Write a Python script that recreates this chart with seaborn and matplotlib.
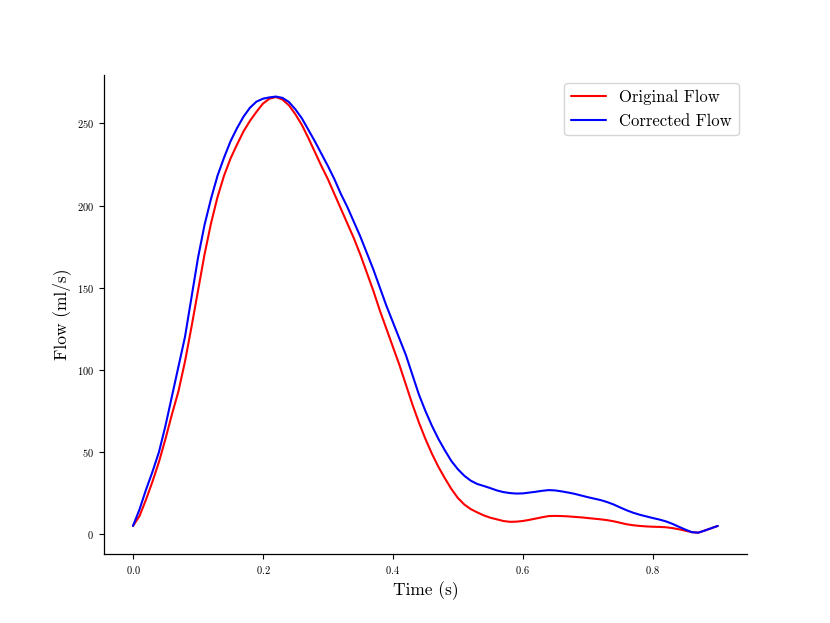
import numpy as np
import pandas as pd
import matplotlib
matplotlib.use("Agg")
import matplotlib.pyplot as plt
import seaborn as sns

# Values (flow in ml/s, every 0.01 s from 0 to 0.9)
time_s = np.round(np.arange(0, 0.901, 0.01), 2)
original_flow = [
    5, 11, 21, 32, 44, 58, 73, 87, 105, 126,
    148, 170, 189, 205, 218, 228.5, 237, 245, 251.5, 257,
    262, 265, 266, 264.5, 261, 255.5, 249, 241, 232.5, 224,
    216, 207, 198, 189, 180, 170, 159, 148, 136, 125,
    114, 103, 91, 79, 68, 58, 49, 41, 34, 27.5,
    22, 18, 15.2, 13.2, 11.4, 10, 9, 8, 7.5, 7.6,
    8, 8.7, 9.5, 10.3, 11, 11.1, 11, 10.8, 10.5, 10.2,
    9.8, 9.4, 9, 8.5, 7.8, 6.9, 6, 5.4, 5, 4.7,
    4.5, 4.4, 4.2, 3.7, 3, 2.1, 1.2, 0.9, 2.2, 3.6,
    5,
]
corrected_flow = [
    5, 15, 27, 38, 50, 66, 84, 102, 120, 144,
    168, 188, 204, 218, 229, 239, 247, 254, 259.5, 263.2,
    265, 265.8, 266.3, 265.5, 263, 258.5, 253, 246, 239, 231.5,
    224, 216, 207, 199, 190, 181, 171, 161, 150, 139,
    129, 119, 109, 97, 85, 75, 66, 58, 51, 44.5,
    39.5, 35.5, 32.5, 30.5, 29.3, 28, 26.6, 25.6, 25, 24.7,
    24.8, 25.3, 25.8, 26.4, 26.8, 26.6, 26, 25.3, 24.5, 23.5,
    22.5, 21.6, 20.7, 19.5, 18, 16.2, 14.5, 13, 11.8, 10.8,
    9.8, 8.9, 7.8, 6.3, 4.5, 2.8, 1.2, 0.9, 2.2, 3.6,
    5,
]

df = pd.DataFrame({"time": time_s, "orig": original_flow, "corr": corrected_flow})

sns.set_style("ticks")
plt.rcParams["font.family"] = "serif"
plt.rcParams["font.serif"] = ["cmr10", "DejaVu Serif"]
plt.rcParams["mathtext.fontset"] = "cm"
plt.rcParams["axes.formatter.use_mathtext"] = True
plt.rcParams["axes.unicode_minus"] = False
for k in ["text.color", "axes.labelcolor", "xtick.color", "ytick.color", "axes.edgecolor"]:
    plt.rcParams[k] = "black"

fig, ax = plt.subplots(figsize=(8.3, 6.23), dpi=100)
sns.lineplot(data=df, x="time", y="orig", color="red", linewidth=1.5, label="Original Flow", ax=ax)
sns.lineplot(data=df, x="time", y="corr", color="blue", linewidth=1.5, label="Corrected Flow", ax=ax)

ax.set_xlabel("Time (s)", fontsize=12.5)
ax.set_ylabel("Flow (ml/s)", fontsize=12.5)
ax.set_xticks([0.0, 0.2, 0.4, 0.6, 0.8])
ax.set_yticks([0, 50, 100, 150, 200, 250])
ax.tick_params(labelsize=7.5, length=3.5, width=0.8)
for s in ax.spines.values():
    s.set_linewidth(0.9)
sns.despine(ax=ax)
ax.legend(loc="upper right", fontsize=12, handlelength=2.1, labelspacing=0.5)

fig.subplots_adjust(left=0.125, right=0.9, top=0.88, bottom=0.11)
fig.savefig("out.png", dpi=100)
